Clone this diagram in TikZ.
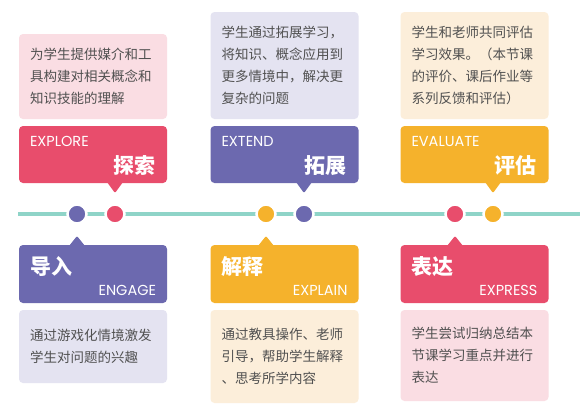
\documentclass[tikz,border=0pt]{standalone}
\usepackage{fontspec}
\setmainfont{Poppins}
\newfontfamily\cjk{Noto Sans CJK SC}
\definecolor{cred}{HTML}{E84D6C}
\definecolor{cpur}{HTML}{6C69AF}
\definecolor{cyel}{HTML}{F5B22C}
\definecolor{lred}{HTML}{FADDE3}
\definecolor{lpur}{HTML}{E4E3F1}
\definecolor{lyel}{HTML}{FCEEDA}
\definecolor{teal}{HTML}{8FD4C8}
\definecolor{txt}{HTML}{505050}
\tikzset{
  bodybox/.style={rounded corners=4pt, inner xsep=11pt, inner ysep=0pt, text width=126pt, minimum width=148pt, align=left, text=txt, font=\cjk\fontsize{13.5}{22}\selectfont},
  hdr/.style={rounded corners=4pt, minimum width=148pt, inner sep=0pt},
  entxt/.style={text=white, inner sep=0pt, font=\fontsize{14.5}{14.5}\selectfont},
  cntxt/.style={text=white, inner sep=0pt, font=\cjk\bfseries\fontsize{21}{21}\selectfont},
  dot/.style={circle, minimum size=19pt, inner sep=0pt, draw=white, line width=2.5pt},
  ptr/.style={rounded corners=1pt}
}
\begin{document}
\begin{tikzpicture}[x=1pt,y=-1pt]
\useasboundingbox (0,0) rectangle (580,413);
\fill[white] (0,0) rectangle (580,413);
% timeline
\coordinate (tl0) at (18,214);
\coordinate (tl1) at (580,214);
\draw[teal, line width=4pt] (tl0) -- (tl1);
\node[dot, fill=cpur] (d1) at (77,214) {};
\node[dot, fill=cred] (d2) at (115,214) {};
\node[dot, fill=cyel] (d3) at (266,214) {};
\node[dot, fill=cpur] (d4) at (304,214) {};
\node[dot, fill=cred] (d5) at (455,214) {};
\node[dot, fill=cyel] (d6) at (493,214) {};

% ---- top column 1 : EXPLORE
\node[bodybox, fill=lred, minimum height=85pt] (b1) at (93,76.5) {为学生提供媒介和工\\具构建对相关概念和\\知识技能的理解};
\node[hdr, fill=cred, minimum height=57pt] (h1) at (93,154.5) {};
\fill[cred, ptr] (107,182) -- (115,193) -- (123,182) -- cycle;
\node[entxt, anchor=west] (e1) at ([shift={(11,16)}]h1.north west) {EXPLORE};
\node[cntxt, anchor=east] (c1) at ([shift={(-12,-18)}]h1.south east) {探索};

% ---- top column 2 : EXTEND
\node[bodybox, fill=lpur, minimum height=107pt] (b2) at (284.5,65.5) {学生通过拓展学习，\\将知识、概念应用到\\更多情境中，解决更\\复杂的问题};
\node[hdr, fill=cpur, minimum height=57pt] (h2) at (284.5,154.5) {};
\fill[cpur, ptr] (296,182) -- (304,193) -- (312,182) -- cycle;
\node[entxt, anchor=west] (e2) at ([shift={(11,16)}]h2.north west) {EXTEND};
\node[cntxt, anchor=east] (c2) at ([shift={(-12,-18)}]h2.south east) {拓展};

% ---- top column 3 : EVALUATE
\node[bodybox, fill=lyel, minimum height=107pt] (b3) at (474.5,65.5) {学生和老师共同评估\\学习效果。（本节课\\的评价、课后作业等\\系列反馈和评估）};
\node[hdr, fill=cyel, minimum height=57pt] (h3) at (474.5,154.5) {};
\fill[cyel, ptr] (485,182) -- (493,193) -- (501,182) -- cycle;
\node[entxt, anchor=west] (e3) at ([shift={(11,16)}]h3.north west) {EVALUATE};
\node[cntxt, anchor=east] (c3) at ([shift={(-12,-18)}]h3.south east) {评估};

% ---- bottom column 1 : ENGAGE
\node[hdr, fill=cpur, minimum height=58pt] (h4) at (93,274) {};
\fill[cpur, ptr] (69,246) -- (77,236) -- (85,246) -- cycle;
\node[cntxt, anchor=west] (c4) at ([shift={(11,22)}]h4.north west) {导入};
\node[entxt, anchor=east] (e4) at ([shift={(-11,-13)}]h4.south east) {ENGAGE};
\node[bodybox, fill=lpur, minimum height=73pt] (b4) at (93,346.5) {通过游戏化情境激发\\学生对问题的兴趣};

% ---- bottom column 2 : EXPLAIN
\node[hdr, fill=cyel, minimum height=58pt] (h5) at (284.5,274) {};
\fill[cyel, ptr] (258,246) -- (266,236) -- (274,246) -- cycle;
\node[cntxt, anchor=west] (c5) at ([shift={(11,22)}]h5.north west) {解释};
\node[entxt, anchor=east] (e5) at ([shift={(-11,-13)}]h5.south east) {EXPLAIN};
\node[bodybox, fill=lyel, minimum height=93pt] (b5) at (284.5,356.5) {通过教具操作、老师\\引导，帮助学生解释\\、思考所学内容};

% ---- bottom column 3 : EXPRESS
\node[hdr, fill=cred, minimum height=58pt] (h6) at (474.5,274) {};
\fill[cred, ptr] (447,246) -- (455,236) -- (463,246) -- cycle;
\node[cntxt, anchor=west] (c6) at ([shift={(11,22)}]h6.north west) {表达};
\node[entxt, anchor=east] (e6) at ([shift={(-11,-13)}]h6.south east) {EXPRESS};
\node[bodybox, fill=lred, minimum height=91pt] (b6) at (474.5,355.5) {学生尝试归纳总结本\\节课学习重点并进行\\表达};
\end{tikzpicture}
\end{document}
